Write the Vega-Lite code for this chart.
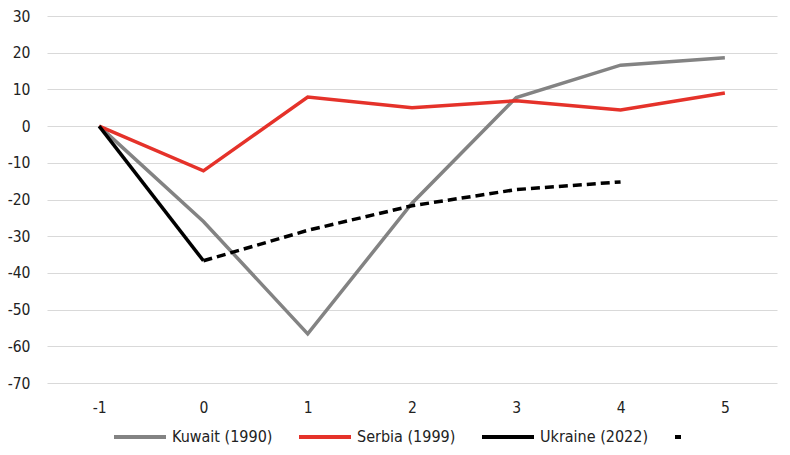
{
  "$schema": "https://vega.github.io/schema/vega-lite/v6.json",
  "width": 730,
  "height": 367,
  "autosize": "none",
  "padding": {"left": 47, "top": 16, "right": 13, "bottom": 72},
  "data": {
    "values": [
      {"year": "-1", "series": "Kuwait (1990)", "value": 0},
      {"year": "0", "series": "Kuwait (1990)", "value": -26},
      {"year": "1", "series": "Kuwait (1990)", "value": -56.6},
      {"year": "2", "series": "Kuwait (1990)", "value": -21},
      {"year": "3", "series": "Kuwait (1990)", "value": 7.8},
      {"year": "4", "series": "Kuwait (1990)", "value": 16.6},
      {"year": "5", "series": "Kuwait (1990)", "value": 18.6},
      {"year": "-1", "series": "Serbia (1999)", "value": 0},
      {"year": "0", "series": "Serbia (1999)", "value": -12.2},
      {"year": "1", "series": "Serbia (1999)", "value": 7.9},
      {"year": "2", "series": "Serbia (1999)", "value": 5},
      {"year": "3", "series": "Serbia (1999)", "value": 6.9},
      {"year": "4", "series": "Serbia (1999)", "value": 4.4},
      {"year": "5", "series": "Serbia (1999)", "value": 9},
      {"year": "-1", "series": "Ukraine (2022)", "value": 0},
      {"year": "0", "series": "Ukraine (2022)", "value": -36.7},
      {"year": "0", "series": " ", "value": -36.7},
      {"year": "1", "series": " ", "value": -28.4},
      {"year": "2", "series": " ", "value": -21.7},
      {"year": "3", "series": " ", "value": -17.3},
      {"year": "4", "series": " ", "value": -15.2}
    ]
  },
  "encoding": {
    "x": {
      "field": "year",
      "type": "ordinal",
      "sort": ["-1", "0", "1", "2", "3", "4", "5"],
      "scale": {"padding": 0.5},
      "axis": {"title": null, "labelAngle": 0, "domain": false, "ticks": false, "grid": false, "labelPadding": 17}
    },
    "y": {
      "field": "value",
      "type": "quantitative",
      "scale": {"domain": [-70, 30], "nice": false, "zero": false},
      "axis": {"title": null, "values": [-70, -60, -50, -40, -30, -20, -10, 0, 10, 20, 30], "labelExpr": "datum.value + ''", "domain": false, "ticks": false, "labelPadding": 17, "gridColor": "#d9d9d9", "gridWidth": 1.2}
    },
    "color": {
      "field": "series",
      "type": "nominal",
      "scale": {
        "domain": ["Kuwait (1990)", "Serbia (1999)", "Ukraine (2022)", " "],
        "range": ["#838383", "#e5322a", "#000000", "#000000"]
      },
      "legend": {
        "title": null,
        "orient": "none",
        "direction": "horizontal",
        "legendX": 65,
        "legendY": 393,
        "columns": 4,
        "columnPadding": 18,
        "symbolType": "stroke",
        "symbolSize": 2700,
        "symbolStrokeWidth": 4,
        "labelOffset": 4,
        "labelFontSize": 16,
        "encode": {
          "symbols": {
            "update": {
              "strokeDash": {"signal": "datum.label === ' ' ? [6, 100] : [1, 0]"}
            }
          }
        }
      }
    }
  },
  "layer": [
    {
      "transform": [{"filter": "datum.series !== ' '"}],
      "mark": {"type": "line", "strokeWidth": 3.5, "strokeCap": "butt", "strokeJoin": "miter"}
    },
    {
      "transform": [{"filter": "datum.series === ' '"}],
      "mark": {"type": "line", "strokeWidth": 3.5, "strokeCap": "butt", "strokeDash": [9, 5]}
    }
  ],
  "config": {
    "view": {"stroke": null},
    "font": "Liberation Sans Narrow, DejaVu Sans Condensed, sans-serif",
    "axis": {"labelFontSize": 15.5, "labelColor": "#222222", "labelFont": "Liberation Sans Narrow, DejaVu Sans Condensed, sans-serif"},
    "legend": {"labelColor": "#222222", "labelFont": "Liberation Sans Narrow, DejaVu Sans Condensed, sans-serif"}
  }
}
